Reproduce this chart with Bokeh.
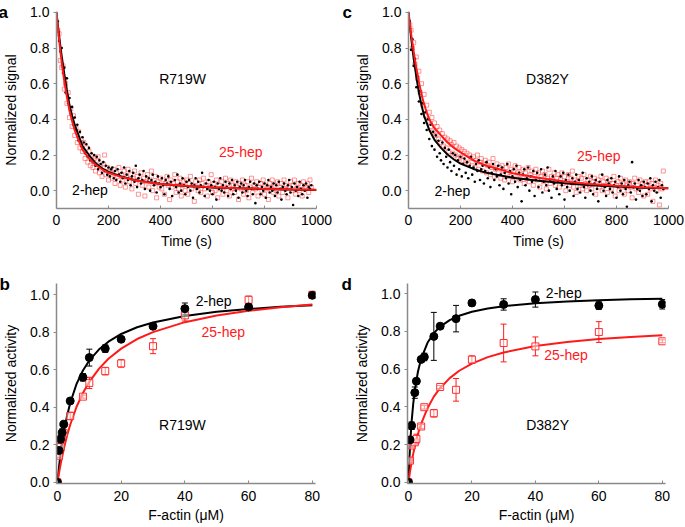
from bokeh.plotting import figure
from bokeh.layouts import column, row
from bokeh.models import Range1d, Label, Whisker, ColumnDataSource, PrintfTickFormatter, TeeHead, Title
from bokeh.embed import file_html
from bokeh.resources import INLINE

FONT = "Liberation Sans"
RED = "#ff1a1a"

# ---------------- time courses (top) ----------------
t_obs = list(range(5, 985, 5))

a_blk = [0.95, 0.84, 0.78, 0.80, 0.66, 0.69, 0.55, 0.63, 0.49, 0.52, 0.43, 0.47, 0.37, 0.41,
         0.34, 0.37, 0.28, 0.33, 0.25, 0.30, 0.27, 0.21, 0.26, 0.19, 0.24, 0.17, 0.21, 0.16,
         0.20, 0.14, 0.19, 0.12, 0.17, 0.15, 0.10, 0.16, 0.11, 0.14, 0.09, 0.13, 0.08, 0.12,
         0.13, 0.07, 0.11, 0.06, 0.12, 0.09, 0.05, 0.10, 0.07, 0.13, 0.04, 0.09, 0.06, 0.11,
         0.03, 0.08, 0.10, 0.05, 0.14, 0.02, 0.07, 0.09, 0.04, 0.06, 0.11, 0.01, 0.08, 0.05,
         0.07, 0.00, 0.06, 0.09, 0.03, 0.05, -0.01, 0.08, 0.04, 0.02, 0.07, 0.03, -0.02, 0.06,
         0.04, 0.08, 0.01, 0.05, -0.03, 0.03, 0.06, 0.02, 0.09, -0.01, 0.04, 0.00, 0.07, 0.03,
         -0.02, 0.05, 0.02, 0.06, 0.00, 0.04, -0.04, 0.03, 0.07, 0.01, 0.05, -0.01, 0.03, 0.10,
         0.02, -0.03, 0.04, 0.01, 0.06, 0.00, 0.03, -0.02, 0.05, 0.02, -0.05, 0.04, 0.01, 0.07,
         0.00, 0.03, -0.01, 0.05, 0.02, -0.03, 0.04, 0.01, 0.06, -0.02, 0.03, 0.00, 0.05, -0.04,
         0.02, 0.04, -0.01, 0.03, 0.06, 0.00, -0.03, 0.02, 0.05, 0.01, -0.02, 0.04, -0.07, 0.03,
         0.01, 0.05, -0.02, 0.02, 0.00, 0.04, -0.04, 0.03, 0.06, -0.01, 0.02, 0.00, 0.04, -0.03,
         0.03, -0.01, 0.05, 0.01, -0.05, 0.02, 0.04, 0.00, -0.02, 0.03, 0.06, -0.01, 0.02, -0.08,
         0.04, 0.00, 0.02, -0.03, 0.05, 0.01, -0.02, 0.03, 0.00, 0.04, -0.04, 0.02, 0.01, 0.03]

a_red = [0.90, 0.88, 0.73, 0.69, 0.70, 0.57, 0.60, 0.49, 0.55, 0.41, 0.46, 0.36, 0.42, 0.31,
         0.35, 0.27, 0.33, 0.24, 0.29, 0.22, 0.27, 0.18, 0.24, 0.16, 0.22, 0.14, 0.19, 0.13,
         0.18, 0.11, 0.17, 0.19, 0.10, 0.14, 0.08, 0.15, 0.20, 0.09, 0.13, 0.06, 0.12, 0.10,
         0.07, 0.12, 0.04, 0.10, 0.08, 0.13, 0.03, 0.09, 0.06, 0.11, 0.02, 0.08, 0.12, 0.05,
         0.09, 0.01, 0.07, 0.11, 0.04, 0.08, -0.02, 0.06, 0.10, 0.03, 0.07, -0.03, 0.05, 0.09,
         0.02, 0.06, 0.11, 0.00, 0.04, 0.08, -0.04, 0.05, 0.02, 0.07, 0.01, 0.06, -0.02, 0.04,
         0.08, 0.03, -0.05, 0.06, 0.02, 0.04, 0.09, -0.01, 0.05, 0.01, 0.07, -0.03, 0.03, 0.05,
         0.00, 0.06, -0.02, 0.04, 0.08, 0.01, 0.03, -0.06, 0.05, 0.02, 0.00, 0.06, -0.01, 0.04,
         0.07, 0.01, 0.03, -0.03, 0.05, 0.02, 0.09, -0.01, 0.04, 0.00, 0.06, -0.04, 0.03, 0.01,
         0.05, -0.02, 0.02, 0.07, 0.00, 0.04, -0.03, 0.06, 0.01, 0.03, -0.01, 0.05, 0.02, -0.05,
         0.04, 0.01, 0.06, -0.02, 0.03, 0.00, 0.05, -0.04, 0.02, 0.07, -0.01, 0.03, 0.01, 0.05,
         -0.03, 0.02, 0.04, 0.00, 0.06, -0.02, 0.03, 0.01, -0.05, 0.04, 0.02, 0.06, -0.01, 0.03,
         0.00, 0.05, -0.03, 0.02, 0.04, -0.01, 0.06, 0.01, 0.03, -0.04, 0.02, 0.05, 0.00, 0.03,
         0.06, -0.02, 0.01, 0.04, 0.00, 0.03, -0.03, 0.05, 0.01, 0.02, 0.04, -0.01, 0.06, 0.02]

c_blk = [0.95, 0.79, 0.85, 0.70, 0.74, 0.58, 0.64, 0.50, 0.56, 0.43, 0.49, 0.38, 0.44, 0.34,
         0.40, 0.29, 0.37, 0.25, 0.33, 0.23, 0.31, 0.19, 0.28, 0.21, 0.17, 0.27, 0.15, 0.24,
         0.19, 0.13, 0.23, 0.16, 0.11, 0.21, 0.14, 0.20, 0.09, 0.17, 0.12, 0.19, 0.08, 0.15,
         0.18, 0.10, 0.16, 0.07, 0.14, 0.19, 0.09, 0.13, 0.05, 0.15, 0.11, 0.17, 0.06, 0.12,
         0.14, 0.04, 0.11, 0.16, 0.07, 0.13, 0.02, 0.10, 0.15, 0.06, 0.12, 0.08, 0.14, 0.03,
         0.09, 0.13, 0.01, 0.10, 0.07, 0.15, 0.04, 0.11, -0.02, 0.08, 0.12, 0.05, 0.14, 0.02,
         0.10, 0.06, -0.06, 0.09, 0.12, 0.03, 0.07, 0.13, 0.00, 0.08, 0.05, 0.11, -0.03, 0.06,
         0.10, 0.02, 0.07, 0.12, -0.01, 0.05, 0.09, 0.03, 0.13, 0.00, 0.06, -0.04, 0.08, 0.04,
         0.11, 0.01, 0.05, -0.02, 0.08, 0.03, 0.10, -0.05, 0.06, 0.02, 0.09, 0.00, 0.04, 0.07,
         -0.03, 0.05, 0.09, 0.01, 0.06, -0.01, 0.04, 0.10, 0.02, -0.04, 0.07, 0.03, 0.05, 0.00,
         0.08, -0.02, 0.04, 0.06, 0.01, -0.06, 0.05, 0.03, 0.09, 0.00, 0.02, -0.03, 0.06, 0.04,
         0.01, 0.07, -0.01, 0.03, 0.05, -0.04, 0.02, 0.08, 0.00, 0.04, -0.02, 0.06, 0.01, -0.09,
         0.03, 0.05, -0.01, 0.16, 0.02, 0.04, -0.05, 0.01, 0.06, 0.00, 0.03, -0.03, 0.05, 0.02,
         -0.02, 0.04, 0.01, 0.07, -0.06, 0.03, 0.00, 0.05, -0.01, 0.02, 0.06, -0.04, 0.03, 0.01]

c_red = [0.93, 0.90, 0.80, 0.83, 0.71, 0.75, 0.63, 0.67, 0.55, 0.60, 0.48, 0.54, 0.42, 0.48,
         0.39, 0.44, 0.36, 0.41, 0.33, 0.38, 0.31, 0.36, 0.29, 0.34, 0.27, 0.32, 0.25, 0.30,
         0.24, 0.29, 0.22, 0.28, 0.26, 0.21, 0.27, 0.20, 0.25, 0.18, 0.24, 0.19, 0.23, 0.17,
         0.22, 0.16, 0.21, 0.15, 0.20, 0.18, 0.14, 0.19, 0.13, 0.17, 0.20, 0.12, 0.16, 0.18,
         0.11, 0.15, 0.17, 0.10, 0.14, 0.16, 0.09, 0.13, 0.18, 0.08, 0.12, 0.15, 0.10, 0.13,
         0.07, 0.14, 0.11, 0.06, 0.13, 0.09, 0.15, 0.08, 0.12, 0.05, 0.11, 0.14, 0.07, 0.10,
         0.13, 0.06, 0.09, 0.12, 0.04, 0.10, 0.07, 0.13, 0.05, 0.09, 0.11, 0.03, 0.08, 0.12,
         0.06, 0.10, 0.02, 0.08, 0.11, 0.05, 0.09, 0.01, 0.07, 0.12, 0.04, 0.08, 0.06, 0.10,
         0.03, 0.07, 0.09, 0.02, 0.06, 0.10, 0.04, 0.08, 0.00, 0.05, 0.09, 0.03, 0.07, 0.11,
         0.02, 0.06, -0.01, 0.05, 0.08, 0.03, 0.07, 0.01, 0.09, 0.04, 0.00, 0.06, 0.03, 0.08,
         0.01, 0.05, 0.07, -0.02, 0.04, 0.06, 0.02, 0.08, 0.00, 0.05, 0.03, 0.07, -0.01, 0.04,
         0.06, 0.01, 0.04, 0.08, -0.03, 0.03, 0.05, 0.00, 0.07, 0.02, 0.04, -0.02, 0.06, 0.03,
         0.00, 0.05, 0.02, -0.04, 0.04, 0.07, 0.01, 0.03, -0.01, 0.06, 0.02, 0.04, -0.03, 0.05,
         0.03, -0.02, 0.05, 0.01, 0.04, -0.06, 0.02, 0.06, 0.00, 0.03, -0.08, 0.04, 0.01, 0.11]

t_fit = [0, 5, 10, 15, 20, 25, 30, 40, 50, 60, 70, 80, 100, 125, 150, 175, 200,
         250, 300, 350, 400, 500, 600, 700, 800, 900, 1000]
a_fit_blk = [1.0, 0.93, 0.87, 0.81, 0.755, 0.705, 0.655, 0.565, 0.48, 0.42, 0.37, 0.33, 0.25,
             0.20, 0.155, 0.125, 0.105, 0.08, 0.06, 0.048, 0.038, 0.026, 0.018, 0.013, 0.009,
             0.006, 0.004]
a_fit_red = [1.0, 0.92, 0.85, 0.78, 0.72, 0.665, 0.615, 0.525, 0.45, 0.39, 0.34, 0.30, 0.23,
             0.18, 0.145, 0.12, 0.10, 0.077, 0.058, 0.047, 0.038, 0.027, 0.019, 0.014, 0.010,
             0.007, 0.005]
c_fit_blk = [1.0, 0.93, 0.86, 0.80, 0.74, 0.69, 0.64, 0.55, 0.48, 0.42, 0.38, 0.34, 0.285,
             0.24, 0.203, 0.175, 0.152, 0.122, 0.10, 0.086, 0.073, 0.055, 0.041, 0.031, 0.023,
             0.017, 0.013]
c_fit_red = [1.0, 0.94, 0.88, 0.83, 0.78, 0.73, 0.69, 0.61, 0.54, 0.485, 0.44, 0.40, 0.35,
             0.31, 0.27, 0.24, 0.215, 0.17, 0.14, 0.12, 0.098, 0.072, 0.052, 0.038, 0.028,
             0.019, 0.013]

# ---------------- activity vs F-actin (bottom) ----------------
b_x_blk = [0, 0.5, 1, 1.5, 2, 4, 8, 10, 15, 20, 30, 40, 60, 80]
b_y_blk = [0.0, 0.17, 0.23, 0.265, 0.31, 0.434, 0.56, 0.665, 0.713, 0.763, 0.832, 0.926, 0.935, 0.997]
b_e_blk = [0.0, 0.01, 0.02, 0.02, 0.01, 0.01, 0.02, 0.045, 0.02, 0.008, 0.015, 0.03, 0.015, 0.01]
b_x_red = [0, 0.5, 1, 2, 4, 8, 10, 15, 20, 30, 40, 60, 80]
b_y_red = [0.0, 0.142, 0.188, 0.262, 0.354, 0.457, 0.53, 0.593, 0.634, 0.726, 0.89, 0.973, 1.0]
b_e_red = [0.0, 0.01, 0.02, 0.02, 0.02, 0.008, 0.03, 0.02, 0.02, 0.04, 0.03, 0.02, 0.008]

d_x_blk = [0, 0.5, 1, 2, 2.5, 4, 5, 8, 10, 15, 20, 30, 40, 60, 80]
d_y_blk = [0.0, 0.225, 0.30, 0.475, 0.536, 0.651, 0.664, 0.773, 0.827, 0.867, 0.95, 0.942, 0.968, 0.936, 0.943]
d_e_blk = [0.0, 0.01, 0.02, 0.03, 0.01, 0.015, 0.02, 0.127, 0.01, 0.07, 0.015, 0.03, 0.04, 0.02, 0.025]
d_x_red = [0, 0.5, 1, 2, 2.5, 4, 5, 8, 10, 15, 20, 30, 40, 60, 80]
d_y_red = [0.0, 0.115, 0.195, 0.212, 0.23, 0.296, 0.398, 0.366, 0.505, 0.49, 0.65, 0.738, 0.72, 0.796, 0.747]
d_e_red = [0.0, 0.01, 0.01, 0.01, 0.025, 0.01, 0.01, 0.02, 0.008, 0.06, 0.02, 0.1, 0.05, 0.055, 0.008]

b_x_fit = [0, 0.5, 1, 2, 3, 4, 6, 8, 10, 13, 16, 20, 25, 30, 40, 50, 60, 70, 80]
b_fit_blk = [0, 0.0835, 0.154, 0.268, 0.354, 0.423, 0.525, 0.596, 0.650, 0.708, 0.750, 0.791,
             0.827, 0.852, 0.887, 0.909, 0.924, 0.936, 0.944]
b_fit_red = [0, 0.0514, 0.098, 0.179, 0.248, 0.307, 0.403, 0.477, 0.536, 0.605, 0.659, 0.713,
             0.764, 0.801, 0.854, 0.889, 0.915, 0.933, 0.948]
d_x_fit = [0, 0.25, 0.5, 1, 1.5, 2, 3, 4, 6, 8, 10, 13, 16, 20, 25, 30, 40, 50, 60, 70, 80]
d_fit_blk = [0, 0.106, 0.192, 0.322, 0.416, 0.487, 0.587, 0.654, 0.739, 0.790, 0.825, 0.859,
             0.882, 0.903, 0.921, 0.933, 0.948, 0.958, 0.964, 0.969, 0.972]
d_fit_red = [0, 0.029, 0.057, 0.107, 0.151, 0.190, 0.256, 0.310, 0.393, 0.454, 0.500, 0.552,
             0.591, 0.629, 0.663, 0.688, 0.722, 0.743, 0.759, 0.770, 0.779]

time_ticks = [0, 200, 400, 600, 800, 1000]
actin_ticks = [0, 20, 40, 60, 80]
y_ticks = [0.0, 0.2, 0.4, 0.6, 0.8, 1.0]


def make_fig(w, h, left, right, top, bottom, xr, yr, let, let_off, let_stand):
    p = figure(width=w, height=h, output_backend="svg", toolbar_location=None,
               x_range=Range1d(*xr), y_range=Range1d(*yr),
               min_border_left=left, min_border_right=right,
               min_border_top=top, min_border_bottom=bottom)
    p.title = Title(text=let, align="left", offset=let_off, standoff=let_stand,
                    text_font=FONT, text_font_size="17px", text_font_style="bold",
                    text_color="black")
    p.xgrid.visible = False
    p.ygrid.visible = False
    p.outline_line_color = None
    p.background_fill_color = "white"
    for ax in (p.xaxis[0], p.yaxis[0]):
        ax.axis_line_color = "#8a8a8a"
        ax.axis_line_width = 1.5
        ax.major_tick_line_color = "#8a8a8a"
        ax.minor_tick_line_color = None
        ax.major_label_text_font = FONT
        ax.major_label_text_font_size = "14px"
        ax.major_label_text_color = "black"
        ax.axis_label_text_font = FONT
        ax.axis_label_text_font_size = "14px"
        ax.axis_label_text_font_style = "normal"
        ax.axis_label_text_color = "black"
    p.xaxis.major_tick_in = 3
    p.xaxis.major_tick_out = 0
    p.yaxis.major_tick_in = 0
    p.yaxis.major_tick_out = 3
    p.yaxis.major_label_standoff = 4
    p.yaxis.axis_label_standoff = 8
    p.yaxis.ticker = y_ticks
    p.yaxis.formatter = PrintfTickFormatter(format="%.1f")
    return p


def lab(p, x, y, text, color="black"):
    p.add_layout(Label(x=x, y=y, text=text, text_font=FONT, text_font_size="14px",
                       text_color=color, text_baseline="middle", text_align="left"))


def time_panel(w, left, right, blk, red, fblk, fred, name, nxy, rxy, bxy, let, let_off):
    p = make_fig(w, 258, left, right, 11, 50, (0, 1000), (-0.1, 1.005), let, let_off, -20)
    p.xaxis.ticker = time_ticks
    p.xaxis.axis_label = "Time (s)"
    p.xaxis.major_label_standoff = 6
    p.xaxis.axis_label_standoff = 5
    p.yaxis.axis_label = "Normalized signal"
    p.scatter(t_obs, red, marker="square", size=4, fill_color=None,
              line_color="#ff4d4d", line_alpha=0.75, line_width=0.8)
    p.scatter(t_obs, blk, marker="circle", size=2.6, fill_color="black", line_color=None)
    p.line(t_fit, fblk, line_color="black", line_width=2)
    p.line(t_fit, fred, line_color=RED, line_width=2)
    lab(p, nxy[0], nxy[1], name)
    lab(p, rxy[0], rxy[1], "25-hep", RED)
    lab(p, bxy[0], bxy[1], "2-hep")
    return p


def act_panel(w, left, right, top, ytop, stand, xb, yb, eb, xr, yr, er, xf, fb, fr,
              name, nxy, bxy, rxy, let, let_off):
    p = make_fig(w, 269, left, right, top, 44, (-0.3, 81), (-0.006, ytop), let, let_off, stand)
    p.xaxis.ticker = actin_ticks
    p.xaxis.axis_label = "F-actin (\u03bcM)"
    p.xaxis.major_label_standoff = 7
    p.xaxis.axis_label_standoff = 3
    p.yaxis.axis_label = "Normalized activity"
    p.line(xf, fb, line_color="black", line_width=2)
    p.line(xf, fr, line_color=RED, line_width=2)
    sb = ColumnDataSource(dict(x=xb, y=yb, lo=[v - e for v, e in zip(yb, eb)],
                               hi=[v + e for v, e in zip(yb, eb)]))
    sr = ColumnDataSource(dict(x=xr, y=yr, lo=[v - e for v, e in zip(yr, er)],
                               hi=[v + e for v, e in zip(yr, er)]))
    p.add_layout(Whisker(source=sr, base="x", upper="hi", lower="lo", line_color=RED,
                         line_width=1,
                         upper_head=TeeHead(size=6, line_color=RED, line_width=1),
                         lower_head=TeeHead(size=6, line_color=RED, line_width=1)))
    p.add_layout(Whisker(source=sb, base="x", upper="hi", lower="lo", line_color="black",
                         line_width=1,
                         upper_head=TeeHead(size=6, line_color="black", line_width=1),
                         lower_head=TeeHead(size=6, line_color="black", line_width=1)))
    p.scatter("x", "y", source=sr, marker="square", size=7, fill_color="white",
              fill_alpha=0.5, line_color="#ff3030", line_width=1)
    p.scatter("x", "y", source=sb, marker="circle", size=8, fill_color="black",
              line_color="black")
    lab(p, nxy[0], nxy[1], name)
    lab(p, bxy[0], bxy[1], "2-hep")
    lab(p, rxy[0], rxy[1], "25-hep", RED)
    return p


pa = time_panel(340, 55, 24, a_blk, a_red, a_fit_blk, a_fit_red, "R719W",
                (395, 0.627), (625, 0.215), (60, 0.004), "a", -58)
pc = time_panel(345, 68, 17, c_blk, c_red, c_fit_blk, c_fit_red, "D382Y",
                (452, 0.627), (648, 0.195), (100, 0.0), "c", -66)
pb = act_panel(340, 55, 25, 25, 1.06, -20, b_x_blk, b_y_blk, b_e_blk, b_x_red, b_y_red, b_e_red,
               b_x_fit, b_fit_blk, b_fit_red, "R719W", (31.9, 0.306), (43.4, 0.966),
               (45.2, 0.80), "b", -57)
pd = act_panel(345, 67, 20, 25, 1.053, -20, d_x_blk, d_y_blk, d_e_blk, d_x_red, d_y_red, d_e_red,
               d_x_fit, d_fit_blk, d_fit_red, "D382Y", (37.1, 0.306), (43.3, 1.005),
               (42.8, 0.673), "d", -66)

layout = column(row(pa, pc), row(pb, pd))
open("out.html", "w").write(file_html(layout, INLINE))
